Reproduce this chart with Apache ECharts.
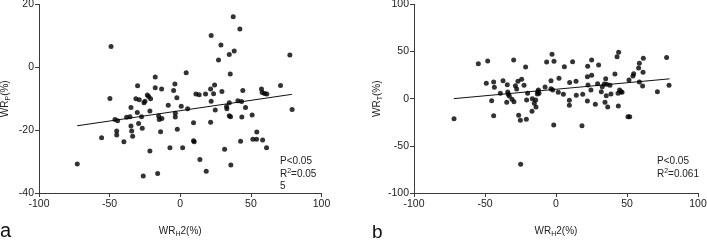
<!DOCTYPE html>
<html>
<head>
<meta charset="utf-8">
<script src="https://cdn.jsdelivr.net/npm/echarts@6/dist/echarts.min.js"></script>
<style>
  html, body { margin: 0; padding: 0; background: #fff; }
  #main { width: 707px; height: 241px; }
</style>
</head>
<body>
<div id="main"></div>
<script>
// panel a: WR_H2 vs WR_P
const pointsA = [
  [-72.9, -30.8], [-49, 6.6], [-49.8, -9.9], [-55.7, -22.4], [-46.2, -16.6],
  [-44.3, -17], [-45, -20.3], [-45, -21.5], [-39.9, -23.7], [-38, -15.9],
  [-35.6, -15.7], [-34.9, -12.8], [-34.9, -18.7], [-34.4, -20.3], [-33.7, -21.9],
  [-30.2, -5.9], [-31.4, -10], [-29, -10.3], [-30.4, -14.4], [-29.5, -17.9],
  [-27.4, -15.7], [-26.9, -19.4], [-25.7, -11.3], [-25, -10.8], [-23.3, -8.8],
  [-22.4, -9.3], [-21, -10], [-21.5, -13.9], [-21.5, -26.6], [-26.2, -34.6],
  [-17.7, -3.1], [-17.7, -6.5], [-15.3, -15.5], [-14.9, -16.6], [-13, -16.3],
  [-13.2, -6.9], [-13.9, -20.5], [-16, -33.8], [-8.5, -12.1], [-7.3, -25.6],
  [-4.7, -7.4], [-3.8, -5.3], [-2.4, -9.7], [-3.5, -14.6], [-3.5, -15.8],
  [-2.1, -19.7], [0.7, -12.4], [1.7, -25.6], [4.2, -1.7], [5.2, -13.2],
  [9.4, -17.6], [9.9, -23.7], [9.4, -23.4], [11.1, -8.5], [13.4, -8.7],
  [13.9, -29.3], [17.9, -8.5], [18.4, -33.1], [21.9, 10.1], [21.5, -6.9],
  [21.9, -10.8], [21.5, -17.5], [23.6, -8.4], [24.3, -5.6], [24.8, -13.6],
  [28.8, 7.1], [27.1, 2.3], [29.5, -7.7], [31.4, -26.1], [32.8, -12.5],
  [33, -13.2], [34.7, 4.1], [34.7, -11.3], [34.7, -15.4], [35.4, -2.1],
  [35.6, -15.7], [35.8, -31.1], [37.5, 16.1], [38.2, 5.2], [40.8, -10.6],
  [42.2, 12.2], [43.4, -10.9], [44.3, -7.4], [46.2, -12.8], [43.6, -15.8],
  [42.7, -23.5], [50.9, -15.2], [51.4, -22.9], [54, -22.9], [54.2, -20.6],
  [57.5, -6.9], [58, -8], [58.3, -23.1], [59.7, -8.3], [61.3, -8.5],
  [61.1, -25.6], [71, -5.8], [77.6, 3.9], [79.2, -13.4]
];
const fitA = [[-73, -18.6], [79, -8.6]];

// panel b: WR_H2 vs WR_T
const pointsB = [
  [-71.8, -21.2], [-54.7, 37.1], [-48.1, 39.9], [-49.1, 16.3], [-43.9, 17.7],
  [-43.4, 12], [-45.3, -2.1], [-43.9, -18], [-39.2, 5.7], [-37.3, 19.1],
  [-34.3, 14.8], [-34, 7.1], [-33.6, 4.6], [-32.9, 2.8], [-34.7, -3.9],
  [-31, -0.7], [-29.6, -3.2], [-29.8, 41], [-28.6, 13.8], [-27.7, 10.2],
  [-26.8, 18.4], [-24.2, 20.5], [-22.5, 14.1], [-21.4, 33.6], [-26.3, -17.7],
  [-25.1, -23], [-20.9, -21.9], [-24.9, -69.6], [-20, 5.7], [-20.7, -1.4],
  [-16.7, 0], [-14.3, -1.4], [-15.3, -4.9], [-14.1, -8.8], [-16.9, -13.4],
  [-12.9, 7.4], [-12.4, 9.2], [-13.1, 4.9], [-12, 5.7], [-7.7, 12.4],
  [-6.6, 38.9], [-2.8, 47], [-1.4, 39.6], [-3.5, 19.1], [-3.5, 10.6],
  [-2.3, 9.2], [-1.6, -27.9], [1.6, 6.7], [2.1, 21.6], [5.2, 4.6],
  [5.9, 33.9], [9.6, 17], [9.4, -1.8], [9.4, -7.1], [11.7, 39.2],
  [14.1, 18.4], [14.3, 3.5], [18.8, 4.6], [22.3, 34.3], [25.1, 41],
  [22.1, 23.3], [25.1, 24.7], [22.5, 14.5], [22.1, -2.5], [24.6, 9.2],
  [27.7, -6], [29.3, 15.9], [30, 35.7], [31.9, 7.4], [32.6, 12.7],
  [34, 15.5], [35, 21.2], [35.7, 15.2], [38, 14.1], [35.4, 3.2],
  [34.5, -3.9], [36.4, -8.8], [38.7, 4.9], [41.5, 26.1], [43, 44.5],
  [44.1, 49.1], [43.7, 5.7], [44.8, 9.2], [45.8, 7.4], [46.5, 6.7],
  [43.9, -7.8], [50.7, -19.1], [51.9, -19.1], [51.4, 19.8], [54.2, 24],
  [54.7, 26.5], [58.2, 32.5], [58.7, 37.5], [61.5, 42.8], [61.3, 27.9],
  [58.7, 17.7], [61, 13.4], [71.4, 7.4], [77.9, 43.5], [79.6, 14.1],
  [18.3, -28.6]
];
const fitB = [[-72, 0], [80, 21]];

const xTicks = { min: -100, max: 100, interval: 50 };
const yTicksA = { min: -40, max: 20, interval: 20 };
const yTicksB = { min: -100, max: 100, interval: 50 };

const axisColor = '#3a3a3a';
const textColor = '#222';
const font = 'Liberation Sans';

const subRich = {
  s: { fontSize: 7, fontFamily: font, color: textColor, verticalAlign: 'bottom', lineHeight: 9, padding: [4, 0, 0, 0] }
};

function xAxis(gridIndex) {
  return {
    type: 'value', gridIndex: gridIndex,
    min: xTicks.min, max: xTicks.max, interval: xTicks.interval,
    name: 'WR{s|H}2(%)', nameLocation: 'middle', nameGap: 31,
    nameTextStyle: { fontSize: 10, fontFamily: font, color: textColor, lineHeight: 14, rich: subRich },
    axisLine: { onZero: false, lineStyle: { color: axisColor, width: 1 } },
    axisTick: { length: 4, lineStyle: { color: axisColor } },
    axisLabel: { fontSize: 10.5, fontFamily: font, color: textColor, margin: 6 },
    splitLine: { show: false }
  };
}

function yAxis(gridIndex, t, sub, gap) {
  return {
    type: 'value', gridIndex: gridIndex,
    min: t.min, max: t.max, interval: t.interval,
    name: 'WR{s|' + sub + '}(%)', nameLocation: 'middle', nameGap: gap,
    nameTextStyle: { fontSize: 10, fontFamily: font, color: textColor, lineHeight: 14, rich: subRich },
    axisLine: { show: true, onZero: false, lineStyle: { color: axisColor, width: 1 } },
    axisTick: { show: true, length: 4, lineStyle: { color: axisColor } },
    axisLabel: { fontSize: 10.5, fontFamily: font, color: textColor, margin: 5 },
    splitLine: { show: false }
  };
}

function scatter(i, data) {
  return {
    type: 'scatter', xAxisIndex: i, yAxisIndex: i, data: data,
    symbolSize: 5, itemStyle: { color: '#000' }, silent: true, z: 3
  };
}

function fit(i, data) {
  return {
    type: 'line', xAxisIndex: i, yAxisIndex: i, data: data,
    showSymbol: false, symbol: 'none', lineStyle: { color: '#111', width: 1 }, silent: true, z: 2
  };
}

function note(left, top, lines) {
  return {
    type: 'text', left: left, top: top,
    style: {
      text: lines, fill: textColor, fontSize: 10, fontFamily: font, lineHeight: 12.5,
      rich: { sup: { fontSize: 7, fontFamily: font, fill: textColor, verticalAlign: 'top', lineHeight: 12.5, padding: [0, 0, 4, 0] } }
    }
  };
}

const chart = echarts.init(document.getElementById('main'), null, { renderer: 'canvas' });
chart.setOption({
  animation: false,
  backgroundColor: '#fff',
  grid: [
    { left: 39, top: 4.5, width: 282.5, height: 188.5, outerBoundsMode: 'none', containLabel: false },
    { left: 414, top: 4.3, width: 284, height: 188.7, outerBoundsMode: 'none', containLabel: false }
  ],
  xAxis: [xAxis(0), xAxis(1)],
  yAxis: [yAxis(0, yTicksA, 'P', 27), yAxis(1, yTicksB, 'T', 30)],
  series: [scatter(0, pointsA), fit(0, fitA), scatter(1, pointsB), fit(1, fitB)],
  graphic: [
    note(280, 155, 'P<0.05\nR{sup|2}=0.05\n5'),
    note(657, 155, 'P<0.05\nR{sup|2}=0.061'),
    { type: 'text', left: 0, top: 221, style: { text: 'a', fontSize: 20, fontFamily: font, fill: '#111' } },
    { type: 'text', left: 372, top: 223, style: { text: 'b', fontSize: 19, fontFamily: font, fill: '#111' } }
  ]
});
</script>
</body>
</html>
